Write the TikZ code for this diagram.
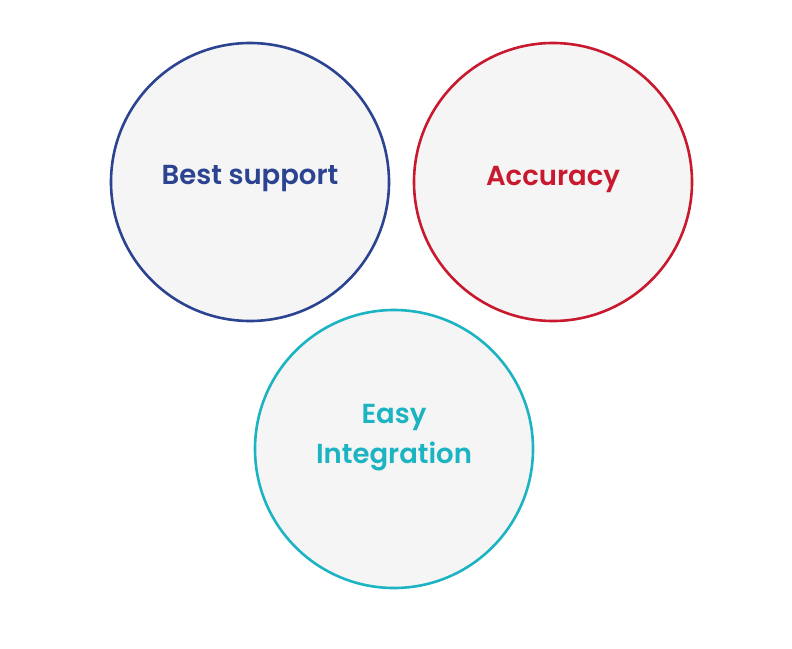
\documentclass[tikz,border=0pt]{standalone}
\usepackage{fontspec}
\setmainfont{Poppins}
\newfontfamily\medfont{Poppins SemiBold}
\usepackage{xcolor}
\definecolor{supportblue}{HTML}{2B4390}
\definecolor{accred}{HTML}{C8192E}
\definecolor{integteal}{HTML}{1CB3C2}
\definecolor{circfill}{HTML}{F5F5F5}

\tikzset{
  bubble/.style={circle,draw,line width=2.6pt,fill=circfill,minimum size=278pt,inner sep=0pt},
  bubbletext/.style={font=\medfont\fontsize{27.5}{40}\selectfont,align=center}
}

\begin{document}
\begin{tikzpicture}[x=1pt,y=-1pt]
  \useasboundingbox (0,0) rectangle (792,648);
  % the three bubbles
  \node[bubble,draw=supportblue] (support) at (250,182) {};
  \node[bubble,draw=accred] (accuracy) at (553,182) {};
  \node[bubble,draw=integteal] (integration) at (394,449) {};
  % labels
  \node[bubbletext,text=supportblue] (supportlbl) at (250,179) {Best support};
  \node[bubbletext,text=accred] (accuracylbl) at (553,179) {Accuracy};
  \node[bubbletext,text=integteal] (integrationlbl) at (394,438) {Easy\\Integration};
\end{tikzpicture}
\end{document}
